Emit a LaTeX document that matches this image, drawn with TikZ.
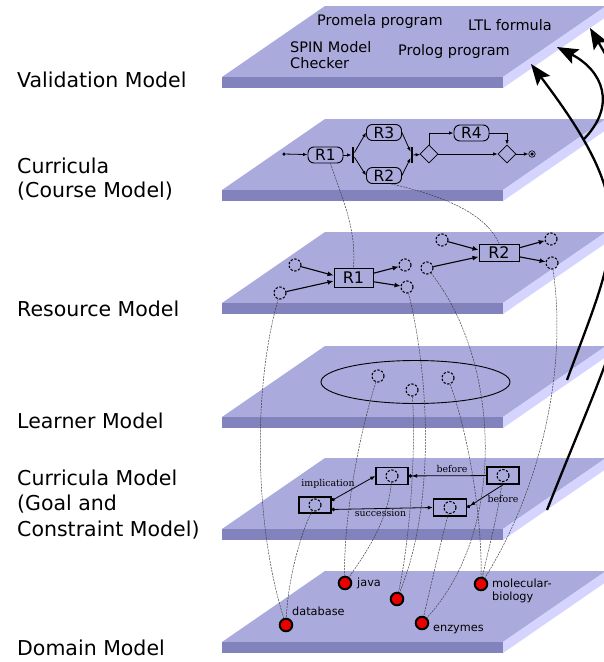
\documentclass[tikz,border=0pt]{standalone}
\usepackage{fontspec}
\setmainfont{DejaVu Sans}
\newfontfamily\serifx{DejaVu Serif}
\usetikzlibrary{arrows.meta,shapes.geometric}
\definecolor{topc}{RGB}{170,170,221}
\definecolor{frontc}{RGB}{130,130,188}
\definecolor{sidec}{RGB}{212,212,255}
\definecolor{dotred}{RGB}{235,0,0}
\newcommand\myplane[1]{%
  \fill[topc] (222,#1) -- (503,#1) -- (606,#1-71) -- (325,#1-71) -- cycle;
  \fill[frontc] (222,#1) rectangle (503,#1+11);
  \fill[sidec] (503,#1) -- (606,#1-71) -- (606,#1-60) -- (503,#1+11) -- cycle;}
\begin{document}
\begin{tikzpicture}[x=1pt,y=-1pt,
  lbl/.style={anchor=base west,inner sep=0,font=\fontsize{20.5}{24}\selectfont},
  ptxt/.style={anchor=base west,inner sep=0,font=\fontsize{14.5}{17}\selectfont},
  act/.style={draw,rounded corners=6pt,minimum width=35pt,minimum height=16pt,inner sep=0,line width=0.9pt,font=\fontsize{15.5}{16}\selectfont},
  res/.style={draw,minimum width=39pt,minimum height=19pt,inner sep=0,line width=1pt,font=\fontsize{16}{16}\selectfont},
  dc/.style={circle,draw,dash pattern=on 2.3pt off 1.6pt,line width=1.1pt,minimum size=12pt,inner sep=0},
  gbox/.style={draw,line width=1.4pt,minimum width=32pt,minimum height=17pt,inner sep=0},
  rdot/.style={circle,draw,fill=dotred,line width=2pt,minimum size=12.5pt,inner sep=0},
  dlab/.style={anchor=base west,inner sep=0,font=\fontsize{11.3}{13}\selectfont},
  slab/.style={inner sep=0,font=\serifx\fontsize{9.4}{11}\selectfont},
  link/.style={draw=black!75,line width=0.5pt,dash pattern=on 2pt off 1pt},
  flow/.style={line width=0.8pt,-{Latex[length=4.5pt,width=3.5pt]}},
  rarr/.style={line width=1.1pt,-{Latex[length=6pt,width=5pt]}},
  rel/.style={line width=0.8pt},
  big/.style={line width=2.3pt,-{Stealth[length=21pt,width=16pt,inset=4pt]}},
  bar/.style={fill=black,minimum width=2.5pt,minimum height=16pt,inner sep=0},
  dia/.style={diamond,draw,line width=0.8pt,minimum size=18pt,inner sep=0},
  sdot/.style={circle,fill=black,minimum size=3.5pt,inner sep=0}]
\useasboundingbox (0,0) rectangle (604,662);
\clip (0,0) rectangle (604,662);
\fill[white] (0,0) rectangle (604,662);
% planes
\myplane{77}
\myplane{190}
\myplane{303}
\myplane{417}
\myplane{529}
\myplane{642}
% left labels
\node[lbl] (lv) at (17,87.5) {Validation Model};
\node[lbl] (lc1) at (17,173.5) {Curricula};
\node[lbl] (lc2) at (17,197.5) {(Course Model)};
\node[lbl] (lr) at (17,316) {Resource Model};
\node[lbl] (ll) at (17,428) {Learner Model};
\node[lbl] (lg1) at (17,485) {Curricula Model};
\node[lbl] (lg2) at (17,510.5) {(Goal and};
\node[lbl] (lg3) at (17,536) {Constraint Model)};
\node[lbl] (ld) at (17,655) {Domain Model};
% validation plane
\node[ptxt] (t1) at (317,25) {Promela program};
\node[ptxt] (t2) at (468,30) {LTL formula};
\node[ptxt] (t3) at (290,52) {SPIN Model};
\node[ptxt] (t4) at (290,68) {Checker};
\node[ptxt] (t5) at (398,55) {Prolog program};
% curricula (course) plane
\node[sdot] (cs) at (284,154) {};
\node[act] (cR1) at (325.5,155) {R1};
\node[bar] (fork) at (353,155) {};
\node[act] (cR3) at (384,132.5) {R3};
\node[act] (cR2) at (384,175.5) {R2};
\node[bar] (join) at (412,155) {};
\node[dia] (d1) at (429,154) {};
\node[act] (cR4) at (471.5,133) {R4};
\node[dia] (d2) at (507,154) {};
\node[circle,draw,line width=0.6pt,minimum size=6.5pt,inner sep=0] (ce) at (532,154) {};
\node[sdot,minimum size=3.5pt] (ce2) at (532,154) {};
\draw[flow] (cs) -- (cR1);
\draw[flow] (cR1) -- (fork);
\draw[flow] (fork) -- (cR3.west);
\draw[flow] (fork) -- (cR2.west);
\draw[flow] (cR3.east) -- (join);
\draw[flow] (cR2.east) -- (join);
\draw[flow] (join) -- (d1);
\draw[flow] (d1.north) |- (cR4);
\draw[flow] (d1) -- (d2);
\draw[flow] (cR4) -| (d2.north);
\draw[flow] (d2) -- (ce);
% resource plane
\node[res] (rR1) at (353.5,277.5) {R1};
\node[res,minimum width=40pt,minimum height=17pt] (rR2) at (499,252.5) {R2};
\node[dc] (c1) at (295,265) {};
\node[dc] (c2) at (280,293) {};
\node[dc] (c3) at (405,265) {};
\node[dc] (c4) at (407,287) {};
\node[dc] (c5) at (427,268) {};
\node[dc] (c6) at (442,240) {};
\node[dc] (c7) at (551,239) {};
\node[dc] (c8) at (552,263) {};
\draw[rarr] (c1) -- (rR1.174);
\draw[rarr] (c2) -- (rR1.190);
\draw[rarr] (rR1.12) -- (c3);
\draw[rarr] (rR1.348) -- (c4);
\draw[rarr] (c6) -- (rR2.173);
\draw[rarr] (c5) -- (rR2.192);
\draw[rarr] (rR2.13) -- (c7);
\draw[rarr] (rR2.348) -- (c8);
% learner plane
\node[ellipse,draw,line width=0.9pt,minimum width=189pt,minimum height=43pt,inner sep=0] (lme) at (415.5,382) {};
\node[dc] (l1) at (378,376) {};
\node[dc] (l2) at (412,390) {};
\node[dc] (l3) at (448,378) {};
% goal and constraint plane
\node[gbox] (g1) at (392,476) {};
\node[dc] (g1c) at (392,476) {};
\node[gbox] (g2) at (503,475.5) {};
\node[dc] (g2c) at (503,475.5) {};
\node[gbox,minimum height=16pt] (g3) at (315,505) {};
\node[dc] (g3c) at (315,505) {};
\node[gbox,minimum width=33pt] (g4) at (450,507.5) {};
\node[dc] (g4c) at (450,507.5) {};
\draw[rel,-{Latex[length=5pt,width=4pt]Circle[length=3.5pt]}] (g2) -- (g1);
\node[slab] (bf1) at (452,469) {before};
\draw[rel,{Circle[length=3.5pt]}-{Latex[length=5pt,width=4pt]}] (g3.15) -- (g1.west);
\node[slab] (imp) at (328,484) {implication};
\draw[rel,{Circle[length=3.5pt]}-{Latex[length=5pt,width=4pt]}] (g3.345) -- (g4.west);
\node[slab] (suc) at (380.5,513) {succession};
\draw[rel,-{Latex[length=5pt,width=4pt]Circle[length=3.5pt]}] (g2.south) -- (g4.east);
\node[slab] (bf2) at (503,499) {before};
% domain plane
\node[rdot] (javad) at (345,583) {};
\node[dlab] (javal) at (357,586) {java};
\node[rdot] (dbd) at (286,625) {};
\node[dlab] (dbl) at (292,615) {database};
\node[rdot] (midd) at (397,599) {};
\node[rdot] (enzd) at (422,623) {};
\node[dlab] (enzl) at (433,631) {enzymes};
\node[rdot] (mold) at (481,584) {};
\node[dlab] (moll1) at (492,587) {molecular-};
\node[dlab] (moll2) at (492,600.5) {biology};
% mapping links
\draw[link] (cR1.-60) .. controls (345,205) and (356,230) .. (rR1.north);
\draw[link] (cR2.-50) .. controls (440,195) and (485,212) .. (rR2.north);
\draw[link] (c2) .. controls (252,390) and (255,528) .. (dbd);
\draw[link] (g3c) .. controls (300,535) and (288,580) .. (dbd);
\draw[link] (l1) .. controls (360,430) and (343,520) .. (javad);
\draw[link] (g1c) .. controls (388,520) and (368,550) .. (javad);
\draw[link] (l2) .. controls (416,450) and (410,540) .. (midd);
\draw[link] (c4) .. controls (430,380) and (435,506) .. (midd);
\draw[link] (g4c) .. controls (440,545) and (430,590) .. (enzd);
\draw[link] (c5) .. controls (500,360) and (508,530) .. (enzd);
\draw[link] (l3) .. controls (470,440) and (482,520) .. (mold);
\draw[link] (g2c) .. controls (497,520) and (488,550) .. (mold);
\draw[link] (c8) .. controls (568,370) and (540,490) .. (mold);
% validation arrows
\coordinate (a1s) at (583,140);
\coordinate (a1e) at (557,47);
\coordinate (a2s) at (567,380);
\coordinate (a2e) at (531,64);
\coordinate (a3s) at (547,510);
\coordinate (a3e) at (590,28);
\draw[big] (a1s) .. controls (618,105) and (602,70) .. (a1e);
\draw[big] (a2s) .. controls (619,240) and (641,209) .. (a2e);
\draw[big] (a3s) .. controls (620,324) and (692,200) .. (a3e);
\end{tikzpicture}
\end{document}
